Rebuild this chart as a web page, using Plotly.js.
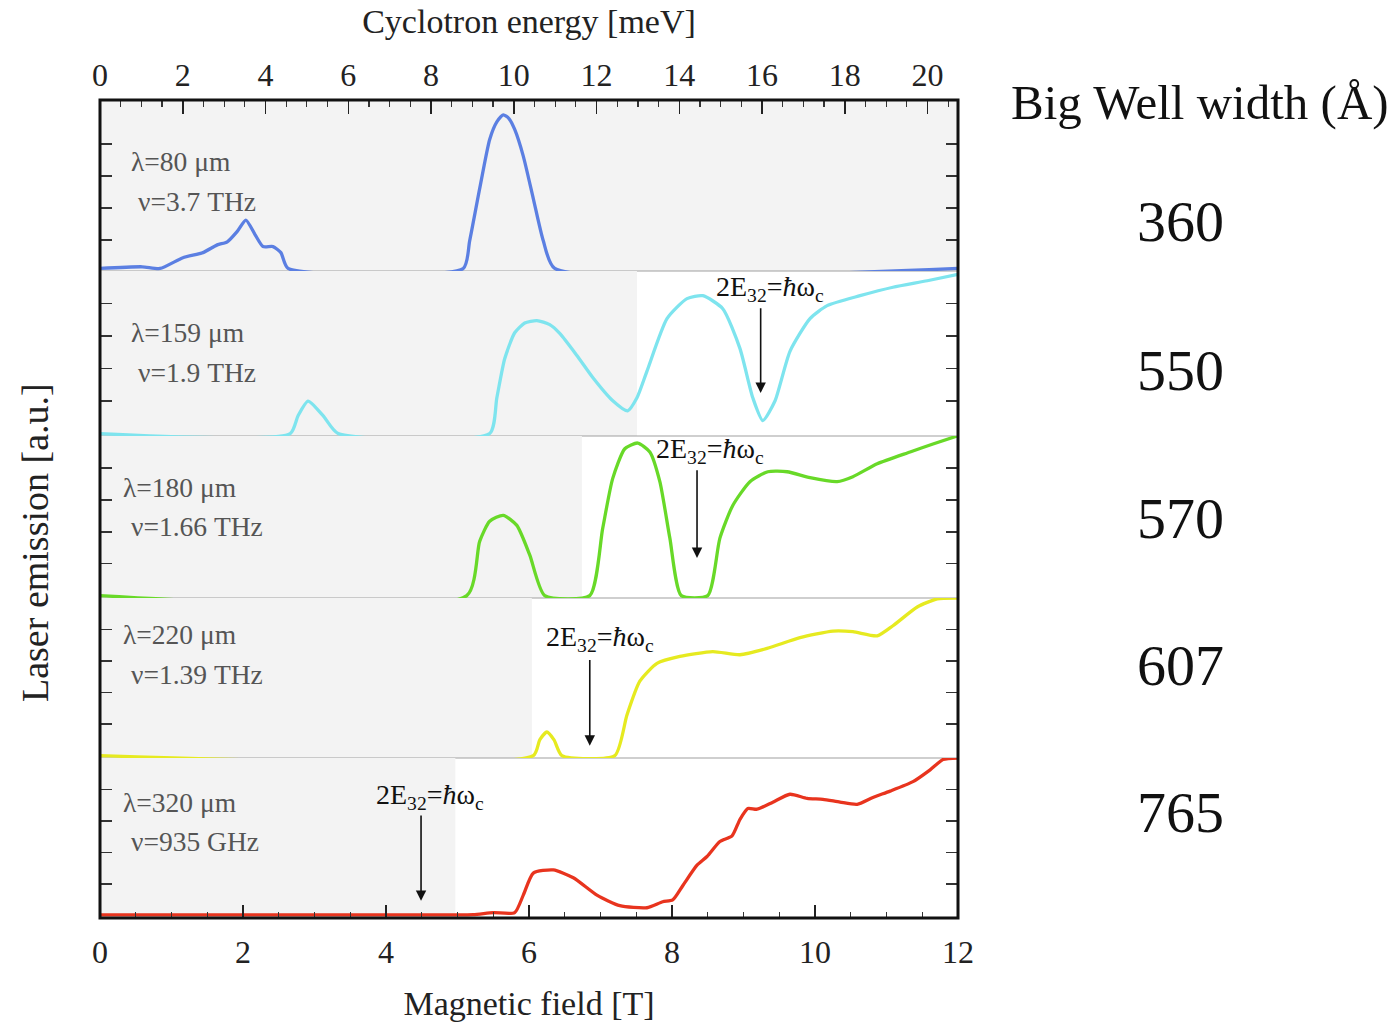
<!DOCTYPE html>
<html><head><meta charset="utf-8">
<script src="https://cdn.plot.ly/plotly-3.0.1.min.js"></script>
<style>html,body{margin:0;padding:0;background:#fff;}#chart{width:1395px;height:1026px;}</style>
</head><body><div id="chart"></div>
<script>
// ---------- data ----------
const wellWidths = ['360', '550', '570', '607', '765'];
const wavelengths = ['λ=80 μm', 'λ=159 μm', 'λ=180 μm', 'λ=220 μm', 'λ=320 μm'];
const frequencies = ['ν=3.7 THz', 'ν=1.9 THz', 'ν=1.66 THz', 'ν=1.39 THz', 'ν=935 GHz'];

const field360 = [0, 0.59, 0.84, 1.16, 1.44, 1.64, 1.78, 1.92, 2.04, 2.17, 2.28, 2.42, 2.53, 2.63, 5.08, 5.17, 5.31, 5.45, 5.55, 5.64, 5.72, 5.80, 5.92, 6.06, 6.20, 6.36, 12];
const emission360 = [0, 0.01, 0, 0.064, 0.094, 0.14, 0.158, 0.22, 0.287, 0.2, 0.13, 0.13, 0.094, 0, 0, 0.164, 0.474, 0.766, 0.87, 0.912, 0.89, 0.825, 0.667, 0.415, 0.164, 0, 0];

const field550 = [0, 2.66, 2.77, 2.91, 3.12, 3.33, 5.45, 5.55, 5.66, 5.80, 5.94, 6.11, 6.29, 6.43, 6.67, 6.90, 7.16, 7.38, 7.51, 7.65, 7.93, 8.21, 8.43, 8.71, 8.95, 9.13, 9.27, 9.44, 9.65, 9.93, 10.17, 10.63, 11.09, 11.57, 12.0];
const emission550 = [0, 0, 0.11, 0.20, 0.11, 0, 0, 0.22, 0.46, 0.62, 0.68, 0.695, 0.67, 0.616, 0.48, 0.34, 0.207, 0.14, 0.22, 0.384, 0.707, 0.83, 0.848, 0.768, 0.524, 0.22, 0.08, 0.20, 0.506, 0.707, 0.787, 0.848, 0.90, 0.94, 0.98];

const field570 = [0, 5.13, 5.31, 5.45, 5.64, 5.83, 6.01, 6.22, 6.85, 7.03, 7.17, 7.34, 7.52, 7.69, 7.83, 7.97, 8.13, 8.50, 8.67, 8.85, 9.09, 9.34, 9.61, 9.93, 10.31, 10.53, 10.87, 11.33, 11.65, 11.99];
const emission570 = [0, 0, 0.34, 0.466, 0.503, 0.44, 0.255, 0, 0, 0.42, 0.733, 0.92, 0.956, 0.90, 0.714, 0.36, 0, 0, 0.36, 0.565, 0.714, 0.776, 0.776, 0.739, 0.714, 0.745, 0.826, 0.90, 0.95, 1.0];

const field607 = [0, 6.06, 6.15, 6.25, 6.35, 6.46, 7.20, 7.37, 7.55, 7.79, 8.11, 8.57, 8.95, 9.33, 9.79, 10.25, 10.53, 10.87, 11.09, 11.43, 11.71, 11.99];
const emission607 = [0, 0, 0.10, 0.15, 0.10, 0, 0, 0.258, 0.472, 0.585, 0.629, 0.66, 0.64, 0.68, 0.748, 0.79, 0.786, 0.76, 0.824, 0.943, 0.995, 1.0];

const field765 = [0, 4.76, 5.22, 5.50, 5.80, 5.92, 6.06, 6.34, 6.62, 6.95, 7.27, 7.65, 7.87, 8.01, 8.15, 8.35, 8.49, 8.67, 8.84, 8.95, 9.06, 9.19, 9.41, 9.65, 9.89, 10.11, 10.35, 10.59, 10.81, 11.05, 11.37, 11.61, 11.79, 12.0];
const emission765 = [0.005, 0.005, 0.006, 0.019, 0.019, 0.13, 0.27, 0.29, 0.24, 0.13, 0.063, 0.05, 0.088, 0.10, 0.19, 0.32, 0.375, 0.47, 0.506, 0.61, 0.68, 0.675, 0.72, 0.77, 0.744, 0.738, 0.72, 0.706, 0.75, 0.79, 0.85, 0.925, 0.99, 1.0];

// resonance field 2E32 = ħωc (T) and upper end of shaded region (T)
const resonanceField = [null, 9.24, 8.35, 6.85, 4.49];
const shadedUpTo = [12, 7.51, 6.74, 6.04, 4.97];

const meVperTesla = 1.728;   // GaAs cyclotron energy per tesla
const fieldMax = 12;

// ---------- styling / layout ----------
const series = [
  {x: field360, y: emission360, color: '#5b7fe2'},
  {x: field550, y: emission550, color: '#7ee4ee'},
  {x: field570, y: emission570, color: '#68d928'},
  {x: field607, y: emission607, color: '#e6ea20'},
  {x: field765, y: emission765, color: '#e8341e'}
];
const FONT = "'Liberation Serif', 'DejaVu Serif', serif";
const axisIds = ['5', '4', '3', '2', ''];      // top panel -> bottom panel
const bounds = [100, 271, 436, 598, 758, 918];  // pixel rows of panel edges
const plotTop = 100, plotBottom = 918, plotH = plotBottom - plotTop;
const tickSets = [[0.17, 0.36, 0.55, 0.74], [0.2, 0.4, 0.6, 0.8], [0.2, 0.4, 0.6, 0.8], [0.2, 0.4, 0.6, 0.8], [0.2, 0.4, 0.6, 0.8]];
const labelPos = [
  {lx: 0.40, ly: 0.637, nx: 0.50, ny: 0.40},
  {lx: 0.40, ly: 0.62, nx: 0.50, ny: 0.378},
  {lx: 0.30, ly: 0.677, nx: 0.40, ny: 0.43},
  {lx: 0.30, ly: 0.767, nx: 0.40, ny: 0.516},
  {lx: 0.30, ly: 0.72, nx: 0.40, ny: 0.47}
];
const resTextPos = [null, {x: 9.37, y: 0.89}, {x: 8.53, y: 0.907}, {x: 6.99, y: 0.742}, {x: 4.62, y: 0.756}];
const arrowSpan = [null, [0.25, 0.78], [0.236, 0.795], [0.063, 0.616], [0.094, 0.644]];
const widthY = [222, 370, 518, 665, 812];

const traces = [];
const layout = {
  width: 1395, height: 1026,
  margin: {l: 100, r: 437, t: 100, b: 108},
  paper_bgcolor: '#fff', plot_bgcolor: 'rgba(0,0,0,0)',
  showlegend: false,
  font: {family: FONT, color: '#222'},
  xaxis: {
    range: [0, fieldMax], dtick: 2, ticks: 'inside', ticklen: 13, tickwidth: 1.5, tickcolor: '#222',
    minor: {dtick: 0.5, ticks: 'inside', ticklen: 6, tickwidth: 1.2, tickcolor: '#333'},
    showgrid: false, zeroline: false, showline: false,
    tickfont: {family: FONT, size: 32, color: '#222'}, ticklabelstandoff: 12,
    title: {text: 'Magnetic field [T]', font: {family: FONT, size: 34, color: '#222'}, standoff: 22}
  },
  xaxis2: {
    overlaying: 'x', side: 'top', anchor: 'free', position: 1,
    range: [0, fieldMax * meVperTesla], dtick: 2, ticks: 'inside', ticklen: 13, tickwidth: 1.5, tickcolor: '#222',
    minor: {dtick: 0.5, ticks: 'inside', ticklen: 6, tickwidth: 1.2, tickcolor: '#333'},
    showgrid: false, zeroline: false, showline: false,
    tickfont: {family: FONT, size: 32, color: '#222'}, ticklabelstandoff: 8,
    title: {text: 'Cyclotron energy [meV]', font: {family: FONT, size: 34, color: '#222'}, standoff: 11}
  },
  shapes: [], annotations: []
};

series.forEach((s, p) => {
  const id = axisIds[p];
  const yName = 'y' + id;
  const yKey = 'yaxis' + id;
  layout[yKey] = {
    domain: [(plotBottom - bounds[p + 1]) / plotH, (plotBottom - bounds[p]) / plotH],
    range: [-0.015, 1.0], anchor: 'x',
    showgrid: false, zeroline: false, showline: false, showticklabels: false,
    ticks: 'inside', ticklen: 12, tickwidth: 1.5, tickcolor: '#333', mirror: 'ticks',
    tickvals: tickSets[p], fixedrange: true
  };
  layout.shapes.push({type: 'rect', layer: 'below', xref: 'x', yref: yName + ' domain',
    x0: 0, x1: shadedUpTo[p], y0: 0, y1: 1, fillcolor: '#f3f3f3', line: {width: 0}});
  if (p < 4) layout.shapes.push({type: 'line', layer: 'below', xref: 'paper', yref: yName + ' domain',
    x0: 0, x1: 1, y0: 0, y1: 0, line: {color: '#a0a0a0', width: 1.2}});
  traces.push({type: 'scatter', mode: 'lines', x: s.x, y: s.y, xaxis: 'x', yaxis: yName,
    line: {color: s.color, width: 3.3, shape: 'spline', smoothing: 0.6}, hoverinfo: 'x+y'});
  layout.annotations.push({xref: 'x', yref: yName, x: labelPos[p].lx, y: labelPos[p].ly, xanchor: 'left', yanchor: 'middle',
    text: wavelengths[p], showarrow: false, font: {family: FONT, size: 27.5, color: '#555'}});
  layout.annotations.push({xref: 'x', yref: yName, x: labelPos[p].nx, y: labelPos[p].ny, xanchor: 'left', yanchor: 'middle',
    text: frequencies[p], showarrow: false, font: {family: FONT, size: 27.5, color: '#555'}});
  if (resonanceField[p] !== null) {
    layout.annotations.push({xref: 'x', yref: yName, x: resTextPos[p].x, y: resTextPos[p].y, xanchor: 'center', yanchor: 'middle',
      text: '2E<sub>32</sub>=<i>ħ</i>ω<sub>c</sub>', showarrow: false, font: {family: FONT, size: 28, color: '#111'}});
    layout.annotations.push({xref: 'x', yref: yName, axref: 'x', ayref: yName,
      x: resonanceField[p], y: arrowSpan[p][0], ax: resonanceField[p], ay: arrowSpan[p][1],
      text: '', showarrow: true, arrowhead: 2, arrowsize: 1.3, arrowwidth: 1.6, arrowcolor: '#111'});
  }
  layout.annotations.push({xref: 'paper', yref: 'paper', x: (1180 - 100) / 858, y: (plotBottom - widthY[p]) / plotH,
    xanchor: 'center', yanchor: 'middle', text: wellWidths[p], showarrow: false,
    font: {family: FONT, size: 58, color: '#111'}});
});

traces.push({type: 'scatter', mode: 'lines', x: [0, fieldMax * meVperTesla], y: [null, null], xaxis: 'x2', yaxis: 'y', hoverinfo: 'skip', showlegend: false});

layout.shapes.push({type: 'rect', layer: 'above', xref: 'paper', yref: 'paper', x0: 0, x1: 1, y0: 0, y1: 1,
  line: {color: '#111', width: 3}, fillcolor: 'rgba(0,0,0,0)'});

layout.annotations.push({xref: 'paper', yref: 'paper', x: (1200 - 100) / 858, y: (plotBottom - 103) / plotH,
  xanchor: 'center', yanchor: 'middle', text: 'Big Well width (Å)', showarrow: false,
  font: {family: FONT, size: 49, color: '#111'}});
layout.annotations.push({xref: 'paper', yref: 'paper', x: (35 - 100) / 858, y: (plotBottom - 543) / plotH,
  xanchor: 'center', yanchor: 'middle', textangle: -90, text: 'Laser emission [a.u.]', showarrow: false,
  font: {family: FONT, size: 38, color: '#222'}});

Plotly.newPlot('chart', traces, layout, {displayModeBar: false, staticPlot: true});
</script></body></html>
